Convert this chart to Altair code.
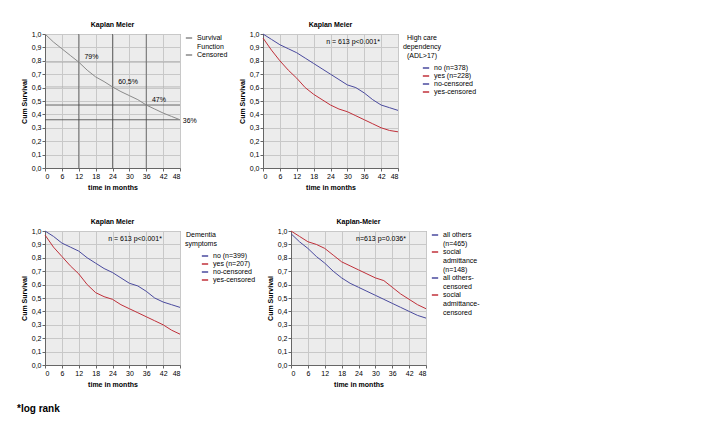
import altair as alt
import pandas as pd

months = [0, 3, 6, 9, 12, 15, 18, 21, 24, 27, 30, 33, 36, 39, 42, 45, 48]
p1_all = [1.0, 0.94, 0.89, 0.84, 0.79, 0.73, 0.68, 0.645, 0.605, 0.57, 0.54, 0.51, 0.47, 0.44, 0.41, 0.385, 0.36]
p2_no = [1.0, 0.96, 0.92, 0.89, 0.86, 0.82, 0.78, 0.74, 0.70, 0.66, 0.62, 0.60, 0.56, 0.51, 0.47, 0.45, 0.43]
p2_yes = [0.97, 0.88, 0.80, 0.73, 0.67, 0.60, 0.55, 0.51, 0.47, 0.44, 0.42, 0.39, 0.36, 0.33, 0.30, 0.28, 0.27]
p3_no = [1.0, 0.96, 0.91, 0.88, 0.85, 0.80, 0.76, 0.72, 0.69, 0.65, 0.61, 0.59, 0.55, 0.50, 0.47, 0.45, 0.43]
p3_yes = [0.97, 0.88, 0.81, 0.74, 0.68, 0.60, 0.54, 0.51, 0.49, 0.45, 0.42, 0.39, 0.36, 0.33, 0.30, 0.26, 0.23]
p4_others = [0.98, 0.92, 0.87, 0.81, 0.76, 0.70, 0.65, 0.61, 0.58, 0.55, 0.52, 0.49, 0.46, 0.43, 0.40, 0.37, 0.35]
p4_social = [1.0, 0.96, 0.92, 0.90, 0.87, 0.82, 0.77, 0.74, 0.71, 0.68, 0.65, 0.63, 0.58, 0.53, 0.49, 0.45, 0.42]

BLUE = "#4a4a9e"
RED = "#c0303a"
GRAY = "#8a8a8a"
FONT = "Liberation Sans"
W, H = 135, 134

XAX = alt.Axis(values=list(range(0, 49, 6)), title="time in months",
               labelOverlap=False, grid=True, gridColor="#c8c8c8")
YAX = alt.Axis(values=[i / 10 for i in range(11)], title="Cum Survival",
               format=".1f", labelExpr="replace(datum.label, '.', ',')",
               labelOverlap=False, grid=True, gridColor="#c8c8c8")
XS = alt.Scale(domain=[0, 48], nice=False)
YS = alt.Scale(domain=[0, 1])


def X(f):
    return alt.X(f, scale=XS, axis=XAX)


def Y(f):
    return alt.Y(f, scale=YS, axis=YAX)


def panel(series, labels, colors, legend_title, title, note, extra):
    rows = []
    for name, vals in zip(labels, series):
        for m, v in zip(months, vals):
            rows.append({"t": m, "s": v, "g": name})
    df = pd.DataFrame(rows)
    dom = labels + extra
    rng = colors + colors[: len(extra)]
    line = alt.Chart(df).mark_line(interpolate="linear", strokeWidth=1).encode(
        x=X("t:Q"), y=Y("s:Q"),
        color=alt.Color("g:N", scale=alt.Scale(domain=dom, range=rng),
                        legend=alt.Legend(title=legend_title, symbolType="stroke",
                                          symbolSize=40, labelFontSize=7, titleFontSize=7,
                                          titleFontWeight="normal", titleAlign="center",
                                          labelFont=FONT, titleFont=FONT, offset=3,
                                          rowPadding=1, labelLimit=70,
                                          labelExpr="split(datum.label, '|')")),
    )
    layers = [line]
    if note:
        layers.append(alt.Chart(pd.DataFrame({"t": [32], "s": [0.94], "n": [note]})).mark_text(
            fontSize=7, font=FONT).encode(x=X("t:Q"), y=Y("s:Q"), text="n:N"))
    return layers, title


def finish(layers, title):
    return alt.layer(*layers).properties(
        width=W, height=H,
        title=alt.TitleParams(title, fontSize=7, font=FONT, fontWeight="bold", offset=2))


l1, t1 = panel([p1_all], ["Survival|Function"], [GRAY], "", "Kaplan Meier", None, ["Censored"])
vref = alt.Chart(pd.DataFrame({"t": [12, 24, 36]})).mark_rule(color="#555", strokeWidth=0.8).encode(x=X("t:Q"))
href = alt.Chart(pd.DataFrame({"s": [0.47, 0.36]})).mark_rule(color="#444", strokeWidth=0.8).encode(y=Y("s:Q"))
href2 = alt.Chart(pd.DataFrame({"s": [0.79, 0.605]})).mark_rule(color="#aaa", strokeWidth=0.8).encode(y=Y("s:Q"))
lab = alt.Chart(pd.DataFrame({"t": [14, 26, 38, 49], "s": [0.83, 0.645, 0.51, 0.35],
                              "l": ["79%", "60,5%", "47%", "36%"]})).mark_text(
    fontSize=7, font=FONT, align="left").encode(x=X("t:Q"), y=Y("s:Q"), text="l:N")
p1 = finish([href2, vref, href] + l1 + [lab], t1)

p2 = finish(*panel([p2_no, p2_yes], ["no (n=378)", "yes (n=228)"], [BLUE, RED],
                   ["High care", "dependency", "(ADL>17)"], "Kaplan Meier", "n = 613   p<0.001*",
                   ["no-censored", "yes-censored"]))
p3 = finish(*panel([p3_no, p3_yes], ["no (n=399)", "yes (n=207)"], [BLUE, RED],
                   ["Dementia", "symptoms"], "Kaplan Meier", "n = 613   p<0.001*",
                   ["no-censored", "yes-censored"]))
p4 = finish(*panel([p4_others, p4_social], ["all others|(n=465)", "social|admittance|(n=148)"], [BLUE, RED],
                   "", "Kaplan-Meier", "n=613   p=0.036*",
                   ["all others-|censored", "social|admittance-|censored"]))

foot = alt.Chart(pd.DataFrame({"l": ["*log rank"]})).mark_text(
    fontSize=10, font=FONT, fontWeight="bold", align="left").encode(
    x=alt.value(-28), y=alt.value(6), text="l:N").properties(
    width=100, height=12, view=alt.ViewBackground(fill="white", stroke="white"))

row1 = alt.hconcat(p1, p2, spacing=8).resolve_scale(color="independent")
row2 = alt.hconcat(p3, p4, spacing=8).resolve_scale(color="independent")
grid = alt.vconcat(row1, row2, spacing=26).resolve_scale(color="independent")
chart = alt.vconcat(grid, foot, spacing=14).resolve_scale(color="independent").configure_view(
    fill="#ececec", stroke="#888").configure_axis(
    labelFontSize=7, titleFontSize=7, labelFont=FONT, titleFont=FONT, titleFontWeight="bold",
    tickSize=3, labelPadding=1, titlePadding=4, domainColor="#666", tickColor="#666"
).properties(padding={"left": 8, "top": 12, "right": 5, "bottom": 5})

chart.save("out.html", embed_options={"renderer": "svg", "actions": False})
